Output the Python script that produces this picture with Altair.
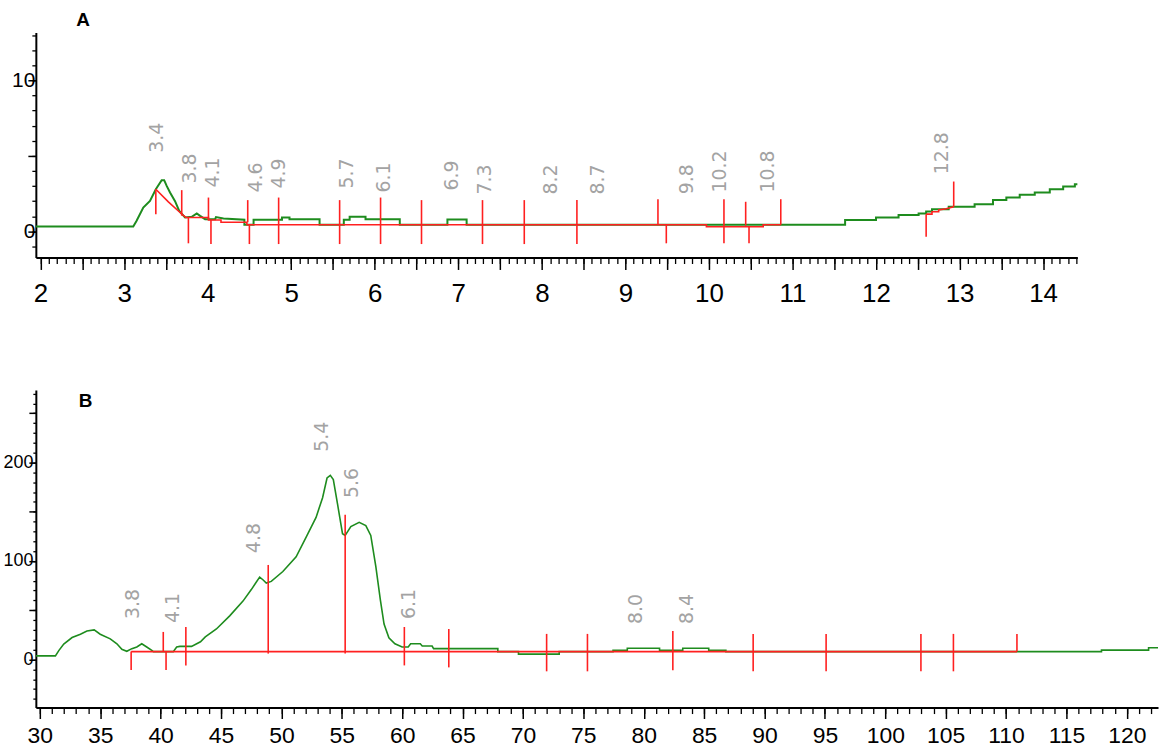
import altair as alt
import numpy as np
import pandas as pd

# ---------------- Panel A (time axis in minutes) ----------------
a_green_x = [1.944, 3.11, 3.15, 3.23, 3.31, 3.38, 3.45, 3.48, 3.51, 3.55, 3.61, 3.66,
             3.73, 3.81, 3.87, 3.91, 3.97, 4.09, 4.10, 4.19, 4.44, 4.44, 4.55, 4.55,
             4.89, 4.89, 4.98, 4.98, 5.34, 5.34, 5.63, 5.63, 5.70, 5.70, 5.89, 5.89,
             6.30, 6.30, 6.87, 6.87, 7.10, 7.10, 11.63, 11.63, 12.00, 12.00, 12.27, 12.27,
             12.51, 12.51, 12.60, 12.60, 12.67, 12.67, 12.87, 12.87, 13.18, 13.18,
             13.40, 13.40, 13.56, 13.56, 13.72, 13.72, 13.90, 13.90, 14.08, 14.08,
             14.24, 14.24, 14.38, 14.38, 14.41]
a_green_y = [0.33, 0.33, 0.70, 1.58, 2.02, 2.79, 3.39, 3.39, 3.01, 2.57, 2.00, 1.36,
             0.92, 0.97, 1.19, 1.03, 0.81, 0.81, 0.95, 0.86, 0.77, 0.44, 0.44, 0.77,
             0.77, 0.92, 0.92, 0.81, 0.81, 0.44, 0.44, 0.77, 0.77, 0.97, 0.97, 0.81,
             0.81, 0.44, 0.44, 0.79, 0.79, 0.44, 0.44, 0.75, 0.75, 0.92, 0.92, 1.08,
             1.08, 1.19, 1.19, 1.32, 1.32, 1.47, 1.47, 1.63, 1.63, 1.80,
             1.80, 2.07, 2.07, 2.24, 2.24, 2.42, 2.42, 2.57, 2.57, 2.79,
             2.79, 2.97, 2.97, 3.12, 3.12]

a_base_seg = [1] * 15 + [2] * 7
a_base_x = [3.38, 3.53, 3.69, 3.74, 4.01, 4.01, 4.16, 4.16, 4.47, 4.47, 9.97, 9.97,
            10.65, 10.65, 10.86,
            12.60, 12.67, 12.67, 12.75, 12.75, 12.84, 12.93]
a_base_y = [2.79, 1.95, 1.15, 0.92, 0.92, 0.75, 0.75, 0.60, 0.60, 0.44, 0.44, 0.31,
            0.31, 0.44, 0.44,
            1.14, 1.14, 1.30, 1.30, 1.42, 1.50, 1.63]

a_tick_x = [3.38, 3.69, 3.77, 4.01, 4.04, 4.48, 4.50, 4.85, 5.58, 6.07, 6.56, 7.29,
            7.79, 8.42, 9.39, 9.49, 10.18, 10.44, 10.48, 10.86, 12.60, 12.93]
a_tick_top = [2.79, 2.73, 0.92, 2.24, 0.75, 2.07, 0.44, 2.24, 2.07, 2.24, 2.07, 2.07,
              2.07, 2.07, 2.13, 0.44, 2.13, 1.96, 0.31, 2.13, 1.14, 3.30]
a_tick_bottom = [1.14, 1.04, -0.79, 0.75, -0.84, 0.60, -0.84, -0.84, -0.84, -0.84, -0.84, -0.84,
                 -0.84, -0.84, 0.44, -0.79, -0.79, 0.38, -0.79, 0.44, -0.35, 1.63]

a_label_text = ["3.4", "3.8", "4.1", "4.6", "4.9", "5.7", "6.1", "6.9", "7.3", "8.2",
                "8.7", "9.8", "10.2", "10.8", "12.8"]
a_label_x = [3.39, 3.79, 4.06, 4.58, 4.86, 5.67, 6.11, 6.92, 7.32, 8.11,
             8.67, 9.74, 10.13, 10.71, 12.79]
a_label_y = [5.21, 3.17, 2.90, 2.57, 2.84, 2.84, 2.57, 2.71, 2.44, 2.44,
             2.44, 2.46, 2.57, 2.57, 3.78]

a_x_domain = [1.944, 14.41]
a_y_domain = [-1.73, 13.17]
a_x_minor = [round(v, 1) for v in np.arange(2.0, 14.41, 0.1)]
a_x_major = [round(v, 1) for v in np.arange(2.0, 14.41, 0.5)]
a_y_minor = list(range(-1, 14))
a_y_major = [0, 5, 10]

# ---------------- Panel B ----------------
b_green_x = [29.67, 31.29, 31.57, 31.98, 32.67, 33.36, 33.90, 34.50, 35.00, 35.83, 36.38,
             36.79, 37.20, 37.62, 38.03, 38.44, 38.85, 39.27, 39.40, 41.05, 41.33, 41.60,
             42.56, 43.30, 43.70, 44.62, 45.72, 46.82, 47.51, 48.20, 48.47, 48.75, 49.16,
             50.12, 51.22, 52.05, 52.87, 53.41, 53.78, 54.05, 54.30, 54.65, 55.06, 55.28,
             55.75, 56.44, 56.99, 57.40, 57.82, 58.20, 58.50, 58.90, 59.40, 60.00, 60.50,
             60.70, 61.50, 61.66, 62.48, 62.60, 67.92, 67.92, 69.63, 69.63, 73.00, 73.00,
             77.46, 77.46, 78.64, 78.64, 81.31, 81.31, 83.23, 83.23, 85.38, 85.38, 86.80,
             86.80, 117.90, 117.90, 121.80, 121.80, 122.58]
b_green_y = [3.7, 3.7, 9.0, 15.7, 22.3, 25.7, 29.0, 30.0, 25.7, 21.0, 16.0,
             10.3, 8.3, 11.0, 12.7, 16.0, 12.7, 9.3, 8.0, 8.0, 12.7, 13.3,
             13.3, 18.0, 23.0, 31.0, 44.3, 59.3, 71.0, 83.7, 81.0, 77.7, 79.3,
             89.3, 104.3, 124.3, 144.3, 164.3, 184.3, 187.0, 182.7, 157.7, 127.7, 126.0,
             135.0, 139.3, 136.0, 126.0, 94.3, 60.0, 36.0, 22.0, 16.0, 12.7, 12.7,
             16.0, 16.0, 13.7, 13.7, 11.0, 11.0, 8.0, 8.0, 5.5, 5.5, 8.0,
             8.0, 9.3, 9.3, 11.5, 11.5, 9.3, 9.3, 11.5, 11.5, 9.3, 9.3,
             8.0, 8.0, 9.5, 9.5, 12.0, 12.0]

b_base_seg = [1, 1]
b_base_x = [37.56, 110.90]
b_base_y = [8.0, 8.0]

b_tick_x = [37.56, 40.22, 40.45, 42.09, 48.91, 55.28, 60.18, 63.86, 71.96, 75.34,
            82.41, 89.06, 95.10, 102.95, 105.64, 110.90]
b_tick_top = [8, 28, 8, 33, 96, 147, 33, 31, 26, 26, 29, 26, 26, 26, 26, 26]
b_tick_bottom = [-10.7, 8, -10.7, -6, 6, 6, -6, -8, -12, -12, -11, -12, -12, -12, -12, 8]

b_label_text = ["3.8", "4.1", "4.8", "5.4", "5.6", "6.1", "8.0", "8.4"]
b_label_x = [37.72, 41.02, 47.70, 53.39, 55.86, 60.60, 79.40, 83.60]
b_label_y = [41, 37, 108, 211, 164, 41, 36, 36]

b_x_domain = [29.67, 122.58]
b_y_domain = [-48.8, 273.7]
b_x_minor = list(range(30, 123))
b_x_major = list(range(30, 121, 5))
b_y_minor = list(range(-40, 271, 10))
b_y_major = list(range(0, 251, 50))

# ---------------- styling ----------------
GREEN = "#1e8c1e"
RED = "#ff2020"
GREY = "#a3a3a3"
AXIS_FONT = "Liberation Sans"
NOTE_FONT = "DejaVu Sans"


def minor_axis(orient, values, size):
    return alt.Axis(orient=orient, values=values, tickSize=size, labels=False,
                    domain=False, grid=False, title=None, tickColor="black",
                    tickWidth=1.3)


def major_axis(orient, values, size, label_expr, font_size, pad):
    return alt.Axis(orient=orient, values=values, tickSize=size, labelExpr=label_expr,
                    domain=True, domainColor="black", domainWidth=2, grid=False,
                    title=None, tickColor="black", tickWidth=1.5,
                    labelFont=AXIS_FONT, labelFontSize=font_size, labelColor="black",
                    labelPadding=pad, labelFlush=False, labelOverlap=False)


def panel(green, base, ticks, notes, xdom, ydom, axes, width, height,
          letter, letter_xy, green_width):
    xs = alt.Scale(domain=xdom, nice=False, zero=False)
    ys = alt.Scale(domain=ydom, nice=False, zero=False)
    x_minor, x_major, y_minor, y_major = axes

    line = alt.Chart(green).mark_line(color=GREEN, strokeWidth=green_width).encode(
        x=alt.X("x:Q", scale=xs, axis=x_minor),
        y=alt.Y("y:Q", scale=ys, axis=y_minor),
        order="i:Q",
    )
    baseline = alt.Chart(base).mark_line(color=RED, strokeWidth=1.6).encode(
        x=alt.X("x:Q", scale=xs, axis=x_major),
        y=alt.Y("y:Q", scale=ys, axis=y_major),
        detail="seg:N",
        order="i:Q",
    )
    cuts = alt.Chart(ticks).mark_rule(color=RED, strokeWidth=1.6).encode(
        x=alt.X("x:Q", scale=xs, axis=None),
        y=alt.Y("y:Q", scale=ys, axis=None),
        y2="y2:Q",
    )
    labels = alt.Chart(notes).mark_text(
        angle=270, align="left", baseline="middle", font=NOTE_FONT,
        fontSize=19, color=GREY,
    ).encode(
        x=alt.X("x:Q", scale=xs, axis=None),
        y=alt.Y("y:Q", scale=ys, axis=None),
        text="label:N",
    )
    tag = alt.Chart(pd.DataFrame({"letter": [letter]})).mark_text(
        font="Liberation Sans", fontWeight="bold", fontSize=19, color="black",
        align="center", baseline="middle",
    ).encode(
        x=alt.value(letter_xy[0]), y=alt.value(letter_xy[1]), text="letter:N"
    )
    return (
        alt.layer(line, baseline, cuts, labels, tag)
        .resolve_axis(x="independent", y="independent")
        .properties(width=width, height=height)
    )


def frame(xs, ys):
    return pd.DataFrame({"x": xs, "y": ys, "i": range(len(xs))})


green_a = frame(a_green_x, a_green_y)
base_a = frame(a_base_x, a_base_y).assign(seg=a_base_seg)
ticks_a = pd.DataFrame({"x": a_tick_x, "y": a_tick_top, "y2": a_tick_bottom})
notes_a = pd.DataFrame({"x": a_label_x, "y": a_label_y, "label": a_label_text})

green_b = frame(b_green_x, b_green_y)
base_b = frame(b_base_x, b_base_y).assign(seg=b_base_seg)
ticks_b = pd.DataFrame({"x": b_tick_x, "y": b_tick_top, "y2": b_tick_bottom})
notes_b = pd.DataFrame({"x": b_label_x, "y": b_label_y, "label": b_label_text})

axes_a = (
    minor_axis("bottom", a_x_minor, 6),
    major_axis("bottom", a_x_major, 12,
               "abs(datum.value - round(datum.value)) < 0.01 ? format(datum.value, 'd') : ''",
               26, 11),
    minor_axis("left", a_y_minor, 4),
    major_axis("left", a_y_major, 8,
               "datum.value == 5 ? '' : datum.label", 21, -7),
)
axes_b = (
    minor_axis("bottom", b_x_minor, 6),
    major_axis("bottom", b_x_major, 11, "datum.label", 23, 6),
    minor_axis("left", b_y_minor, 3),
    major_axis("left", b_y_major, 7,
               "datum.value % 100 == 0 ? datum.label : ''", 18, -4),
)

chart_a = panel(green_a, base_a, ticks_a, notes_a, a_x_domain, a_y_domain, axes_a,
                1046, 226, "A", (47.5, -13), 2.0)
chart_b = panel(green_b, base_b, ticks_b, notes_b, b_x_domain, b_y_domain, axes_b,
                1127, 319, "B", (50, 11.5), 1.6)

chart = (
    alt.vconcat(chart_a, chart_b, spacing=84)
    .properties(padding={"left": 2, "top": 9, "right": 0, "bottom": 0},
                background="white")
    .configure_view(stroke=None)
)

chart.save("out.html", embed_options={"renderer": "svg", "actions": False})
